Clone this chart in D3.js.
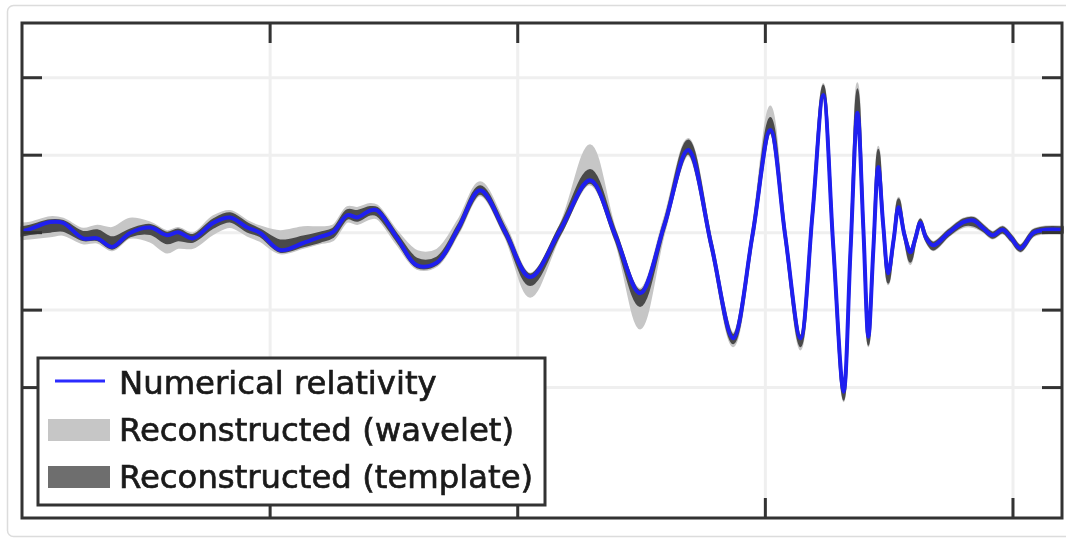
<!DOCTYPE html>
<html>
<head>
<meta charset="utf-8">
<script src="https://cdn.jsdelivr.net/npm/d3@7"></script>
<style>
  body { margin: 0; background: #fff; }
  svg { display: block; filter: blur(0.4px); }
</style>
</head>
<body>
<svg id="chart" width="1066" height="542"></svg>
<script>
// time (s) and strain (arbitrary units)
const times = [0.2500, 0.2516, 0.2557, 0.2583, 0.2623, 0.2652, 0.2682, 0.2718, 0.2759, 0.2793,
    0.2815, 0.2845, 0.2886, 0.2920, 0.2955, 0.2981, 0.3021, 0.3068, 0.3102, 0.3128,
    0.3157, 0.3177, 0.3203, 0.3217, 0.3258, 0.3298, 0.3338, 0.3381, 0.3425, 0.3476,
    0.3526, 0.3587, 0.3647, 0.3698, 0.3748, 0.3797, 0.3845, 0.3892, 0.3936, 0.3975,
    0.4011, 0.4041, 0.4072, 0.4096, 0.4118, 0.4138, 0.4159, 0.4173, 0.4187, 0.4199,
    0.4209, 0.4219, 0.4229, 0.4239, 0.4249, 0.4260, 0.4270, 0.4282, 0.4294, 0.4304,
    0.4314, 0.4326, 0.4340, 0.4371, 0.4401, 0.4421, 0.4441, 0.4460, 0.4480, 0.4498,
    0.4516, 0.4542, 0.4567, 0.4601];

const numRel = [0.01, 0.04, 0.13, 0.12, -0.08, -0.08, -0.19, -0.01, 0.06, -0.04,
    0.00, -0.08, 0.12, 0.19, 0.06, -0.01, -0.23, -0.14, -0.06, 0.00,
    0.22, 0.19, 0.28, 0.28, -0.08, -0.43, -0.39, 0.05, 0.54, 0.00,
    -0.58, 0.03, 0.67, -0.04, -0.79, 0.09, 1.06, -0.17, -1.37, -0.04,
    1.32, -0.04, -1.37, 0.22, 1.77, -0.17, -2.06, -0.23, 1.54, 0.03,
    -1.35, -0.23, 0.84, 0.09, -0.53, -0.10, 0.32, -0.04, -0.26, -0.08,
    0.12, -0.08, -0.17, -0.01, 0.13, 0.15, 0.05, -0.04, 0.03, -0.08,
    -0.21, -0.01, 0.03, 0.03];

// band extents above / below the numerical relativity curve
const templateUp = [0.05, 0.04, 0.02, 0.02, 0.08, 0.10, 0.12, 0.04, 0.03, 0.03,
    0.03, 0.04, 0.04, 0.05, 0.05, 0.04, 0.12, 0.08, 0.05, 0.04,
    0.06, 0.08, 0.04, 0.03, 0.04, 0.08, 0.06, 0.04, 0.05, 0.04,
    0.03, 0.05, 0.13, 0.05, 0.03, 0.04, 0.12, 0.04, 0.04, 0.04,
    0.15, 0.04, 0.03, 0.04, 0.12, 0.04, 0.03, 0.04, 0.30, 0.04,
    0.03, 0.04, 0.22, 0.04, 0.03, 0.03, 0.10, 0.03, 0.03, 0.03,
    0.04, 0.03, 0.03, 0.03, 0.03, 0.03, 0.03, 0.03, 0.03, 0.03,
    0.03, 0.03, 0.03, 0.03];
const templateDown = [0.05, 0.06, 0.12, 0.10, 0.02, 0.02, 0.02, 0.04, 0.08, 0.10,
    0.10, 0.04, 0.06, 0.05, 0.05, 0.04, 0.02, 0.04, 0.06, 0.06,
    0.04, 0.04, 0.05, 0.06, 0.04, 0.02, 0.02, 0.04, 0.04, 0.04,
    0.10, 0.05, 0.03, 0.05, 0.16, 0.04, 0.04, 0.04, 0.06, 0.04,
    0.03, 0.04, 0.10, 0.04, 0.03, 0.04, 0.10, 0.04, 0.03, 0.04,
    0.10, 0.04, 0.03, 0.04, 0.12, 0.03, 0.03, 0.03, 0.12, 0.03,
    0.03, 0.03, 0.05, 0.03, 0.04, 0.06, 0.03, 0.03, 0.03, 0.03,
    0.03, 0.03, 0.03, 0.03];
const waveletUp = [0.10, 0.08, 0.06, 0.05, 0.12, 0.16, 0.24, 0.18, 0.06, 0.05,
    0.05, 0.06, 0.08, 0.08, 0.08, 0.08, 0.24, 0.20, 0.12, 0.08,
    0.10, 0.12, 0.08, 0.06, 0.08, 0.18, 0.16, 0.10, 0.10, 0.08,
    0.04, 0.06, 0.45, 0.06, 0.05, 0.08, 0.14, 0.06, 0.06, 0.06,
    0.30, 0.05, 0.04, 0.05, 0.14, 0.05, 0.04, 0.05, 0.38, 0.05,
    0.04, 0.05, 0.26, 0.05, 0.04, 0.04, 0.12, 0.04, 0.04, 0.04,
    0.05, 0.04, 0.04, 0.04, 0.04, 0.04, 0.04, 0.04, 0.04, 0.04,
    0.04, 0.04, 0.04, 0.04];
const waveletDown = [0.10, 0.12, 0.18, 0.15, 0.06, 0.05, 0.04, 0.06, 0.18, 0.22,
    0.20, 0.12, 0.14, 0.12, 0.10, 0.10, 0.04, 0.06, 0.08, 0.10,
    0.08, 0.08, 0.10, 0.10, 0.08, 0.04, 0.04, 0.06, 0.06, 0.06,
    0.25, 0.06, 0.05, 0.06, 0.45, 0.08, 0.06, 0.06, 0.10, 0.06,
    0.04, 0.05, 0.14, 0.05, 0.04, 0.05, 0.12, 0.05, 0.04, 0.05,
    0.12, 0.05, 0.04, 0.05, 0.14, 0.04, 0.04, 0.04, 0.15, 0.04,
    0.04, 0.04, 0.06, 0.04, 0.06, 0.08, 0.04, 0.04, 0.04, 0.04,
    0.04, 0.04, 0.04, 0.04];

const xTicks = [0.30, 0.35, 0.40, 0.45];
const yTicks = [-2, -1, 0, 1, 2];

const legendLabels = ["Numerical relativity", "Reconstructed (wavelet)", "Reconstructed (template)"];

const points = times.map((t, i) => ({
    t: t,
    v: numRel[i],
    tHi: numRel[i] + templateUp[i],
    tLo: numRel[i] - templateDown[i],
    wHi: numRel[i] + waveletUp[i],
    wLo: numRel[i] - waveletDown[i]
}));

const svg = d3.select("#chart");
const plotLeft = 22, plotRight = 1062, plotTop = 23, plotBottom = 518;

const x = d3.scaleLinear().domain([0.25, 0.46]).range([plotLeft, plotRight]);
const y = d3.scaleLinear().domain([-3.69, 2.70]).range([plotBottom, plotTop]);

// card behind the plot
svg.append("rect")
    .attr("x", 7.5).attr("y", 5.5)
    .attr("width", 1070).attr("height", 531)
    .attr("rx", 6)
    .style("fill", "#fff")
    .style("stroke", "#dcdcdc")
    .style("stroke-width", 1.5);

// grid
svg.append("g")
    .attr("transform", `translate(0,${plotBottom})`)
    .call(d3.axisBottom(x).tickValues(xTicks).tickSize(-(plotBottom - plotTop)).tickFormat(""))
    .call(g => g.select(".domain").remove())
    .selectAll("line").style("stroke", "#efefef").style("stroke-width", 3);

svg.append("g")
    .attr("transform", `translate(${plotLeft},0)`)
    .call(d3.axisLeft(y).tickValues(yTicks).tickSize(-(plotRight - plotLeft)).tickFormat(""))
    .call(g => g.select(".domain").remove())
    .selectAll("line").style("stroke", "#efefef").style("stroke-width", 3);

const curve = d3.curveCatmullRom.alpha(0.5);

svg.append("path")
    .datum(points)
    .attr("d", d3.area().x(d => x(d.t)).y0(d => y(d.wLo)).y1(d => y(d.wHi)).curve(curve))
    .style("fill", "#c6c6c6")
    .style("stroke", "#c6c6c6")
    .style("stroke-width", 2.5);

svg.append("path")
    .datum(points)
    .attr("d", d3.area().x(d => x(d.t)).y0(d => y(d.tLo)).y1(d => y(d.tHi)).curve(curve))
    .style("fill", "#4a4a4a")
    .style("stroke", "#4a4a4a")
    .style("stroke-width", 2.5);

svg.append("path")
    .datum(points)
    .attr("d", d3.line().x(d => x(d.t)).y(d => y(d.v)).curve(curve))
    .style("fill", "none")
    .style("stroke", "#1f1ff0")
    .style("stroke-width", 4)
    .style("stroke-linejoin", "round");

// inward ticks on all four sides
const tickStyle = g => {
    g.select(".domain").remove();
    g.selectAll("line").style("stroke", "#333").style("stroke-width", 3);
};
svg.append("g").attr("transform", `translate(0,${plotBottom})`)
    .call(d3.axisBottom(x).tickValues(xTicks).tickSize(-20).tickFormat("")).call(tickStyle);
svg.append("g").attr("transform", `translate(0,${plotTop})`)
    .call(d3.axisTop(x).tickValues(xTicks).tickSize(-20).tickFormat("")).call(tickStyle);
svg.append("g").attr("transform", `translate(${plotLeft},0)`)
    .call(d3.axisLeft(y).tickValues(yTicks).tickSize(-20).tickFormat("")).call(tickStyle);
svg.append("g").attr("transform", `translate(${plotRight},0)`)
    .call(d3.axisRight(y).tickValues(yTicks).tickSize(-20).tickFormat("")).call(tickStyle);

svg.append("rect")
    .attr("x", plotLeft).attr("y", plotTop)
    .attr("width", plotRight - plotLeft).attr("height", plotBottom - plotTop)
    .style("fill", "none")
    .style("stroke", "#333")
    .style("stroke-width", 3);

// legend
const legend = svg.append("g");
legend.append("rect")
    .attr("x", 38).attr("y", 358)
    .attr("width", 507).attr("height", 147)
    .style("fill", "#fff")
    .style("stroke", "#333")
    .style("stroke-width", 3);

legend.append("line")
    .attr("x1", 55).attr("x2", 105).attr("y1", 381).attr("y2", 381)
    .style("stroke", "#2b2bff").style("stroke-width", 3);
legend.append("rect")
    .attr("x", 48).attr("y", 419).attr("width", 62).attr("height", 22)
    .style("fill", "#c6c6c6");
legend.append("rect")
    .attr("x", 48).attr("y", 466).attr("width", 62).attr("height", 22)
    .style("fill", "#6e6e6e");

legend.selectAll("text")
    .data(legendLabels)
    .enter().append("text")
    .attr("x", 119)
    .attr("y", (d, i) => 394 + i * 47)
    .style("font-family", "DejaVu Sans")
    .style("font-size", "32.3px")
    .style("fill", "#1a1a1a")
    .style("stroke", "#1a1a1a")
    .style("stroke-width", 0.7)
    .text(d => d);
</script>
</body>
</html>
